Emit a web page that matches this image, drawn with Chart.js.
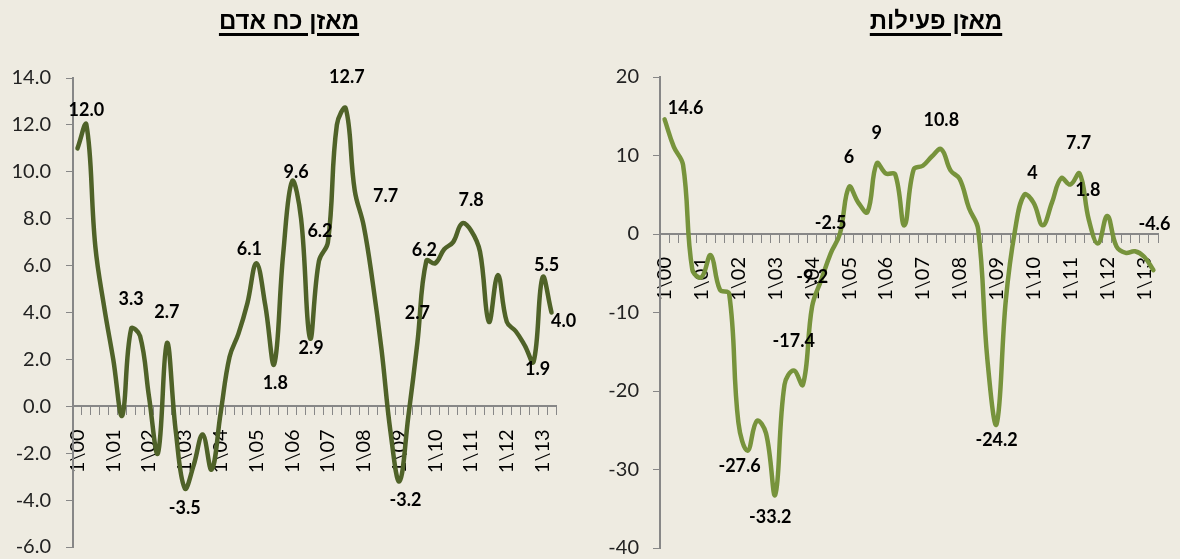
<!DOCTYPE html>
<html><head><meta charset="utf-8">
<script src="https://cdn.jsdelivr.net/npm/chart.js@4/dist/chart.umd.min.js"></script>
<style>
html,body{margin:0;padding:0;background:#EEEBE1;}
#wrap{position:relative;width:1180px;height:559px;overflow:hidden;background:#EEEBE1;}
.box{position:absolute;top:0;width:590px;height:559px;}
.title{position:absolute;top:7px;font:bold 24px "Liberation Sans",Arial,sans-serif;color:#000;text-decoration:underline;text-decoration-thickness:3px;text-underline-offset:4px;direction:rtl;white-space:nowrap;transform:translateX(-50%);}
</style></head>
<body><div id="wrap">
<div class="box" style="left:0"><canvas id="c1" width="590" height="559"></canvas></div>
<div class="box" style="left:590px"><canvas id="c2" width="590" height="559"></canvas></div>
<div class="title" style="left:289px">מאזן כח אדם</div>
<div class="title" style="left:936px">מאזן פעילות</div>
</div>
<script>
// Quarterly categories (month\year), 2000Q1 - 2013Q2
const quarters = [
 "1\\00","4\\00","7\\00","10\\00","1\\01","4\\01","7\\01","10\\01",
 "1\\02","4\\02","7\\02","10\\02","1\\03","4\\03","7\\03","10\\03",
 "1\\04","4\\04","7\\04","10\\04","1\\05","4\\05","7\\05","10\\05",
 "1\\06","4\\06","7\\06","10\\06","1\\07","4\\07","7\\07","10\\07",
 "1\\08","4\\08","7\\08","10\\08","1\\09","4\\09","7\\09","10\\09",
 "1\\10","4\\10","7\\10","10\\10","1\\11","4\\11","7\\11","10\\11",
 "1\\12","4\\12","7\\12","10\\12","1\\13","4\\13"
];
// מאזן כח אדם
const workforceBalance = [
 11.0,12.0,6.8,4.2,2.0,-0.4,3.3,3.0,
 0.4,-2.0,2.7,-1.1,-3.5,-2.5,-1.2,-2.7,
 -0.3,2.1,3.1,4.4,6.1,4.3,1.8,6.5,
 9.6,8.0,2.9,6.2,7.0,12.0,12.7,9.2,
 7.7,5.3,2.4,-1.1,-3.2,-0.4,2.7,6.2,
 6.1,6.7,7.0,7.8,7.5,6.6,3.6,5.6,
 3.6,3.2,2.6,1.9,5.5,4.0
];
// מאזן פעילות
const activityBalance = [
 14.6,11.1,8.8,-4.5,-5.5,-2.7,-7.1,-7.6,
 -24.0,-27.6,-23.8,-25.4,-33.2,-19.2,-17.4,-19.2,
 -9.2,-5.8,-2.5,0.0,6.0,4.0,2.8,9.0,
 7.7,7.6,1.1,8.2,8.7,9.9,10.8,8.1,
 7.0,3.3,0.6,-16.0,-24.2,-8.4,0.5,5.0,
 4.0,1.1,4.0,7.1,6.3,7.7,1.8,-1.2,
 2.3,-1.6,-2.4,-2.2,-2.9,-4.6
];
// indices of points that carry a value label
const workforceLabelIdx = [1,6,10,12,20,22,24,26,27,30,32,36,38,39,43,51,52,53];
const activityLabelIdx  = [0,9,12,14,16,18,20,23,30,36,40,45,46,53];
// label placement offsets (style only), px relative to the point
const workforceLabelOffsets = [[0,-15],[0,-30],[0,-31],[0,20],[-7,-14],[1,19],[4,-9],[1,10],[1,-30],[1,-31],[22,-30],[6,19],[0,-30],[-2,-11],[9,-23],[4,7],[4,-12],[12,9]];
const activityLabelOffsets  = [[21,-11],[-8,16],[-5,23],[0,-29],[0,-29],[0,-30],[0,-30],[0,-30],[0,-29],[0,16],[-1,-29],[-1,-30],[-1,-30],[1,-46]];

const valueLabels = {
  id:'valueLabels',
  afterDatasetsDraw(chart, args, opts){
    const meta = chart.getDatasetMeta(0);
    const ds = chart.data.datasets[0].data;
    const ctx = chart.ctx;
    ctx.save();
    ctx.font = 'bold 18px Lato';
    ctx.fillStyle = '#000';
    ctx.textAlign = 'center';
    ctx.textBaseline = 'middle';
    opts.idx.forEach((i,k)=>{
      const p = meta.data[i];
      const o = opts.offsets[k];
      ctx.fillText(opts.fmt(ds[i]), p.x + o[0], p.y + o[1]);
    });
    ctx.restore();
  }
};

function makeChart(id, cfg){
  return new Chart(document.getElementById(id), {
    type:'line',
    data:{labels:quarters, datasets:[{data:cfg.data, borderColor:cfg.color, borderWidth:4.5, pointRadius:0, tension:0.4, fill:false, borderCapStyle:'round', borderJoinStyle:'round'}]},
    options:{
      responsive:false, animation:false,
      layout:{padding:cfg.padding},
      plugins:{legend:{display:false}, tooltip:{enabled:false}, title:{display:false},
        valueLabels:{idx:cfg.labelIdx, offsets:cfg.offsets, fmt:cfg.labelFmt}},
      scales:{
        x:{type:'category', position:{y:0}, offset:true,
           afterFit:s=>{s.height=0; s.paddingLeft=0; s.paddingRight=0; s.paddingTop=0; s.paddingBottom=0;},
           grid:{display:true, offset:true, drawOnChartArea:false, drawTicks:true, tickLength:8, color:'#878787', lineWidth:1},
           border:{display:true, color:'#878787', width:2},
           ticks:{autoSkip:false, maxRotation:90, minRotation:90, padding:15, color:'#000',
                  font:{family:'Lato', size:20, lineHeight:1},
                  callback:(v,i)=> i%4===0 ? quarters[i] : ''}},
        y:{min:cfg.min, max:cfg.max,
           afterFit:s=>{s.width=cfg.yWidth; s.paddingTop=0; s.paddingBottom=0;},
           ticks:{stepSize:cfg.step, padding:cfg.tickPad, color:'#222', font:{family:'Lato', size:20, lineHeight:1},
                  callback:v=>cfg.tickFmt(v)},
           grid:{display:true, drawOnChartArea:false, drawTicks:true, tickLength:7, color:'#878787', lineWidth:1},
           border:{display:true, color:'#878787', width:2}}
      }
    },
    plugins:[valueLabels]
  });
}

makeChart('c1', {
  data:workforceBalance, color:'#4F6228', min:-6, max:14, step:2,
  tickFmt:v=>v.toFixed(1), labelFmt:v=>v.toFixed(1),
  labelIdx:workforceLabelIdx, offsets:workforceLabelOffsets,
  yWidth:73, tickPad:15, padding:{top:78, right:34, bottom:12, left:0}
});
makeChart('c2', {
  data:activityBalance, color:'#77933C', min:-40, max:20, step:10,
  tickFmt:v=>String(v), labelFmt:v=>String(v),
  labelIdx:activityLabelIdx, offsets:activityLabelOffsets,
  yWidth:70, tickPad:14, padding:{top:77, right:22, bottom:11, left:0}
});
</script>
</body></html>
